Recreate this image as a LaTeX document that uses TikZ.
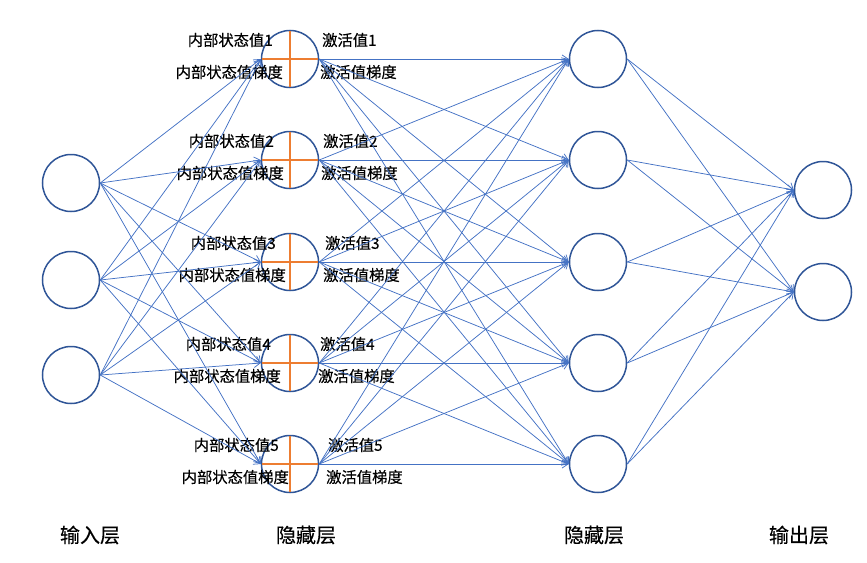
\documentclass[tikz,border=0pt]{standalone}
\usepackage{fontspec}
\setmainfont{Liberation Sans}
\newfontfamily\cjk[FakeBold=0.4]{Noto Sans CJK SC}
\usetikzlibrary{arrows.meta, positioning, calc}
\definecolor{ringblue}{RGB}{47,85,151}
\definecolor{linkblue}{RGB}{68,114,196}
\definecolor{crossorange}{RGB}{237,125,49}

\begin{document}
\begin{tikzpicture}[
    x=1pt, y=-1pt,
    neuron/.style={circle, draw=ringblue, line width=1.5pt, minimum size=57pt, inner sep=0pt},
    link/.style={draw=linkblue, line width=0.75pt, -{Straight Barb[length=6pt,width=8pt]}},
    cross/.style={draw=crossorange, line width=2.5pt, shorten >=0.8pt, shorten <=0.8pt},
    tag/.style={font=\cjk\fontsize{15.3}{18}\selectfont, inner sep=0pt},
    layername/.style={font=\cjk\fontsize{20}{24}\selectfont, inner sep=0pt}
]
    \useasboundingbox (0,0) rectangle (867,562);

    % Input layer
    \foreach \i/\y in {1/183,2/280,3/375}
        \node[neuron] (in\i) at (71,\y) {};

    % First hidden layer with state/activation labels
    \foreach \i/\y/\dx in {1/59/0,2/160/1,3/262/3,4/363/-2,5/464/6} {
        \node[neuron] (hid\i) at (290,\y) {};
        \draw[cross] (hid\i.west) -- (hid\i.east);
        \draw[cross] (hid\i.north) -- (hid\i.south);
        \node[tag, anchor=east] (state\i) at ($(hid\i)+(-17+\dx,-19)$) {内部状态值\i};
        \node[tag, anchor=east] (stategrad\i) at ($(hid\i)+(-7+\dx,13)$) {内部状态值梯度};
        \node[tag, anchor=west] (act\i) at ($(hid\i)+(32+\dx,-19)$) {激活值\i};
        \node[tag, anchor=west] (actgrad\i) at ($(hid\i)+(30+\dx,13)$) {激活值梯度};
    }

    % Second hidden layer
    \foreach \i/\y in {1/59,2/160,3/262,4/363,5/464}
        \node[neuron] (out\i) at (598,\y) {};

    % Output layer
    \foreach \i/\y in {1/190,2/292}
        \node[neuron] (res\i) at (823,\y) {};

    % Connections
    \foreach \a in {1,2,3}
        \foreach \b in {1,...,5}
            \draw[link] (in\a.east) -- (hid\b.west);
    \foreach \a in {1,...,5}
        \foreach \b in {1,...,5}
            \draw[link] (hid\a.east) -- (out\b.west);
    \foreach \a in {1,...,5}
        \foreach \b in {1,2}
            \draw[link] (out\a.east) -- (res\b.west);

    % Layer names
    \node[layername] (inname) at (90,535) {输入层};
    \node[layername] (hidname) at (306,535) {隐藏层};
    \node[layername] (outname) at (594,535) {隐藏层};
    \node[layername] (resname) at (799,535) {输出层};
\end{tikzpicture}
\end{document}
